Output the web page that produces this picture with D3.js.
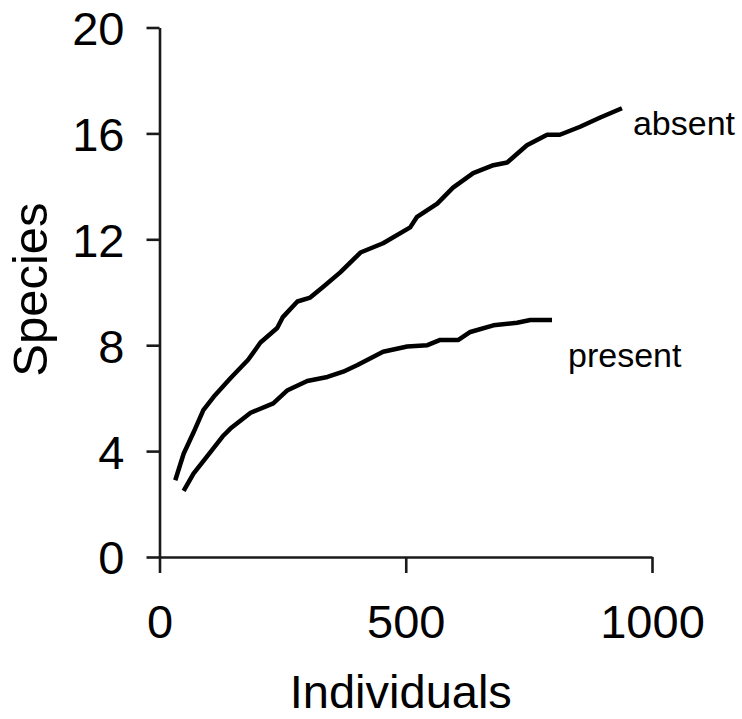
<!DOCTYPE html>
<html>
<head>
<meta charset="utf-8">
<script src="https://cdn.jsdelivr.net/npm/d3@7"></script>
<style>
  body { margin: 0; background: #fff; }
  text { font-family: "Liberation Sans", Arial, sans-serif; fill: #000; }
  .axis path, .axis line { stroke: #1a1a1a; stroke-width: 2.6; }
  .curve { fill: none; stroke: #000; stroke-width: 4.5; stroke-linejoin: round; }
</style>
</head>
<body>
<script>
// rarefaction curves
var absentN = [32, 49, 69, 89, 110, 144, 180, 205, 239, 250, 280, 306, 332, 367, 408, 454,
               509, 523, 564, 596, 637, 678, 706, 746, 787, 813, 854, 895, 939];
var absentS = [2.9, 3.9, 4.7, 5.55, 6.05, 6.75, 7.45, 8.1, 8.65, 9.05, 9.65, 9.8, 10.2, 10.75, 11.5, 11.85,
               12.45, 12.85, 13.35, 13.95, 14.5, 14.8, 14.9, 15.55, 15.95, 15.95, 16.25, 16.6, 16.95];

var presentN = [49, 69, 103, 128, 144, 185, 231, 260, 300, 341, 373, 402, 454, 503, 544,
                570, 607, 631, 678, 726, 753, 797];
var presentS = [2.5, 3.15, 3.95, 4.55, 4.85, 5.45, 5.8, 6.3, 6.65, 6.8, 7.0, 7.25, 7.75, 7.95, 8.0,
                8.2, 8.2, 8.5, 8.75, 8.85, 8.95, 8.95];

var seriesNames = ["absent", "present"];
var xTicks = [0, 500, 1000];
var yTicks = [0, 4, 8, 12, 16, 20];

// set the dimensions and margins of the graph
var margin = {top: 27.5, right: 90, bottom: 162, left: 159.5},
    width = 742 - margin.left - margin.right,
    height = 719 - margin.top - margin.bottom;

var xScale = d3.scaleLinear().domain([0, 1000]).range([0, 492.5]);
var yScale = d3.scaleLinear().domain([0, 20]).range([height, 0]);

var line = d3.line()
    .x(function(d) { return xScale(d.n); })
    .y(function(d) { return yScale(d.s); });

var svg = d3.select("body").append("svg")
    .attr("width", 742)
    .attr("height", 719)
    .append("g")
    .attr("transform", "translate(" + margin.left + "," + margin.top + ")");

// x axis
var gx = svg.append("g")
    .attr("class", "axis")
    .attr("transform", "translate(0," + height + ")")
    .call(d3.axisBottom(xScale)
        .tickValues(xTicks)
        .tickFormat(d3.format("d"))
        .tickSize(16)
        .tickSizeOuter(0)
        .tickPadding(32));
gx.selectAll("text").style("font-size", "47px");

// y axis
var gy = svg.append("g")
    .attr("class", "axis")
    .call(d3.axisLeft(yScale)
        .tickValues(yTicks)
        .tickSize(13)
        .tickSizeOuter(0)
        .tickPadding(22));
gy.selectAll("text").style("font-size", "47px").attr("dy", "0.36em");

// axis titles
svg.append("text")
    .attr("x", xScale(490))
    .attr("y", height + 151)
    .attr("text-anchor", "middle")
    .style("font-size", "47px")
    .text("Individuals");

svg.append("text")
    .attr("transform", "translate(" + (47 - margin.left) + "," + yScale(10.1) + ") rotate(-90)")
    .attr("text-anchor", "middle")
    .style("font-size", "49px")
    .text("Species");

// curves
var curves = [
    absentN.map(function(n, i) { return {n: n, s: absentS[i]}; }),
    presentN.map(function(n, i) { return {n: n, s: presentS[i]}; })
];

svg.selectAll(".curve")
    .data(curves)
    .enter().append("path")
    .attr("class", "curve")
    .attr("d", line);

// end labels
var labelOffset = [[11, 27], [16, 47]];
curves.forEach(function(c, i) {
    var last = c[c.length - 1];
    svg.append("text")
        .attr("x", xScale(last.n) + labelOffset[i][0])
        .attr("y", yScale(last.s) + labelOffset[i][1])
        .style("font-size", "34px")
        .text(seriesNames[i]);
});
</script>
</body>
</html>
